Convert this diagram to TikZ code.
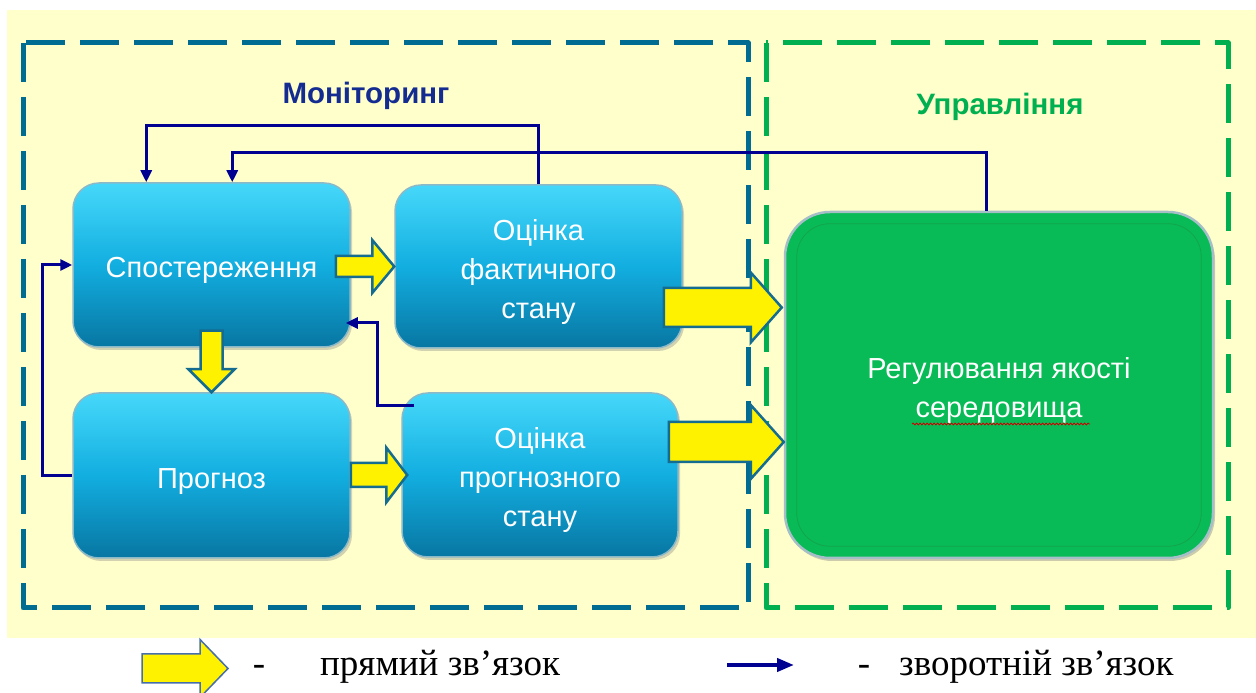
\documentclass[tikz,border=0pt]{standalone}
\usepackage{fontspec}
\setmainfont{Liberation Sans}
\newfontfamily\keyfont{Liberation Serif}
\usetikzlibrary{calc,arrows.meta,shadows,decorations.pathmorphing}

\definecolor{sheet}{RGB}{255,255,204}
\definecolor{monframe}{RGB}{0,108,145}
\definecolor{uprframe}{RGB}{0,176,80}
\definecolor{montext}{RGB}{20,44,145}
\definecolor{boxtop}{RGB}{70,216,250}
\definecolor{boxmid}{RGB}{18,174,224}
\definecolor{boxbot}{RGB}{8,118,162}
\definecolor{boxrim}{RGB}{140,185,200}
\definecolor{regfill}{RGB}{8,187,86}
\definecolor{reginner}{RGB}{20,165,75}
\definecolor{regrim}{RGB}{165,190,200}
\definecolor{fbblue}{RGB}{0,0,145}
\definecolor{fatedge}{RGB}{20,108,145}
\definecolor{keyedge}{RGB}{70,110,170}

\newcommand{\topstrut}{\rule{0pt}{32pt}}
\newcommand{\fatarrow}[6][]{%
	\coordinate (fa-tail) at #2;
	\coordinate (fa-tip) at #3;
	\coordinate (fa-neck) at ($(fa-tip)!#6!(fa-tail)$);
	\draw[fat,#1] ($(fa-tail)!#4!90:(fa-tip)$) -- ($(fa-neck)!#4!90:(fa-tip)$)
		-- ($(fa-neck)!#5!90:(fa-tip)$) -- (fa-tip) -- ($(fa-neck)!#5!-90:(fa-tip)$)
		-- ($(fa-neck)!#4!-90:(fa-tip)$) -- ($(fa-tail)!#4!-90:(fa-tip)$) -- cycle;}

\begin{document}
\begin{tikzpicture}[x=1pt,y=1pt,
		boxtext/.style={text=white,align=center,inner sep=0pt,font=\fontsize{29}{39}\selectfont},
		stage/.style={boxtext,rounded corners=26pt,top color=boxtop,bottom color=boxbot,middle color=boxmid,
			draw=boxrim,line width=1.5pt,drop shadow={opacity=.35,shadow xshift=2pt,shadow yshift=-3pt}},
		regbox/.style={boxtext,rounded corners=45pt,fill=regfill,draw=regrim,line width=2.5pt,
			drop shadow={opacity=.4,shadow xshift=2pt,shadow yshift=-3pt}},
		regin/.style={rounded corners=33pt,draw=reginner,line width=.8pt},
		frame/.style={line width=5pt,dash pattern=on 39pt off 15pt,line join=round},
		title/.style={font=\bfseries\fontsize{29.5}{34}\selectfont,inner sep=0pt,anchor=base},
		fat/.style={fill=yellow,draw=fatedge,line width=2.5pt,line join=miter},
		keyarr/.style={draw=keyedge,line width=1.5pt},
		fb/.style={draw=fbblue,line width=3pt,-{Triangle[length=12pt,width=11pt]}},
		keytext/.style={font=\keyfont\fontsize{37}{44}\selectfont,inner sep=0pt,anchor=base},
		spell/.style={draw=red!80!black,line width=.8pt,decorate,decoration={snake,amplitude=.9pt,segment length=3.5pt}}]
	\useasboundingbox (0,0) rectangle (1256,693);
	\fill[sheet] (7,55) rectangle (1256,683);
	\draw[frame,monframe] (23,650) rectangle (748,85);
	\draw[frame,uprframe] (766,650) rectangle (1228,85);
	\node[title,text=montext] (montitle) at (366,589.5) {Моніторинг};
	\node[title,text=uprframe] (uprtitle) at (1000,578) {Управління};

	\node[stage,minimum width=277pt,minimum height=164pt] (spost) at (211.5,428) {\topstrut Спостереження};
	\node[stage,minimum width=287pt,minimum height=163pt] (fakt) at (538.5,426.5) {\topstrut Оцінка\\фактичного\\стану};
	\node[stage,minimum width=277pt,minimum height=165pt] (progn) at (211.5,217.5) {\topstrut Прогноз};
	\node[stage,minimum width=276pt,minimum height=164pt] (progst) at (540,218) {\topstrut Оцінка\\прогнозного\\стану};
	\node[regbox,minimum width=428pt,minimum height=346pt] (reg) at (999,308) {\topstrut Регулювання якості\\середовища};
	\draw[regin] ($(reg.south west)+(13,13)$) rectangle ($(reg.north east)+(-13,-13)$);
	\draw[spell] ($(reg.center)+(-87,-39)$) -- ($(reg.center)+(91,-39)$);

	\draw[fb] (fakt.north) -- ++(0,59) -| ([xshift=74pt]spost.north west);
	\draw[fb] ([xshift=-13pt]reg.north) -- ++(0,58) -| ([xshift=160pt]spost.north west);
	\draw[fb] (progn.west) -- ++(-30,0) |- (spost.west);
	\draw[fb] ([shift={(13pt,-13pt)}]progst.north west) -- ++(-37,0) |- ([xshift=-5pt,yshift=-58pt]spost.east);

	\fatarrow{($(spost.east |- fakt.west)+(-15,0)$)}{(fakt.west)}{10.5pt}{26.5pt}{22pt}
	\fatarrow{($(spost.south)+(0,17)$)}{(progn.north)}{11pt}{23pt}{23pt}
	\fatarrow{(progn.east |- progst.west)}{($(progst.west)+(6,0)$)}{12pt}{27.5pt}{21pt}
	\fatarrow{($(fakt.east)+(-19,-41)$)}{($(reg.west |- fakt.east)+(-2,-41)$)}{19.5pt}{35pt}{31pt}
	\fatarrow{($(progst.east)+(-10,33)$)}{($(reg.west |- progst.east)+(0,33)$)}{20pt}{37pt}{33pt}

	\coordinate (keyfat) at (142,24.5);
	\fatarrow[keyarr]{(keyfat)}{($(keyfat)+(86,0)$)}{14.5pt}{29pt}{28pt}
	\node[keytext] (keydash1) at (259,17) {-};
	\node[keytext,anchor=base west] (keyfwd) at (320,17) {прямий зв’язок};
	\coordinate (keyfb) at (727,28);
	\draw[fb,line width=4pt,-{Triangle[length=17pt,width=13pt]}] (keyfb) -- ++(67,0);
	\node[keytext] (keydash2) at (864,17) {-};
	\node[keytext,anchor=base west] (keyback) at (899,17) {зворотній зв’язок};
\end{tikzpicture}
\end{document}
